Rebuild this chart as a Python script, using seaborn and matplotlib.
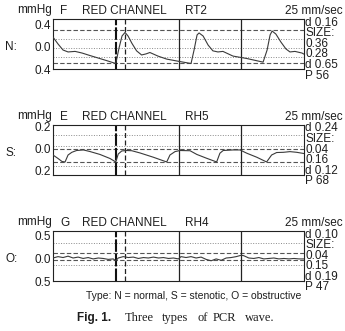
import matplotlib
matplotlib.use("Agg")
import matplotlib.pyplot as plt
import seaborn as sns
import pandas as pd

# ---------------- data ----------------
n_time = [0, 2.0, 4.0, 6.0, 8.8, 11.6, 14.7, 18.7, 21.9, 25.0, 26.3, 27.5, 28.7, 29.9,
          31.4, 33.3, 35.3, 37.1, 38.6, 41.8, 45.3, 50.6, 55.0, 56.2, 57.4, 58.2, 59.8,
          61.8, 63.7, 65.7, 67.7, 71.7, 77.3, 81.7, 83.7, 85.3, 86.5, 87.3, 88.8, 90.8,
          92.8, 94.4, 96.4, 99.2, 100]
n_vals = [0.18, 0.055, -0.055, -0.09, -0.08, -0.11, -0.155, -0.21, -0.255, -0.30, -0.02,
          0.20, 0.265, 0.20, 0.07, -0.07, -0.145, -0.125, -0.10, -0.165, -0.22, -0.265,
          -0.30, -0.055, 0.22, 0.255, 0.20, 0.035, -0.07, -0.09, -0.08, -0.165, -0.21,
          -0.255, -0.275, -0.055, 0.22, 0.29, 0.235, 0.09, -0.035, -0.09, -0.08, -0.11, -0.13]

s_time = [0, 2.0, 3.6, 4.8, 6.0, 7.5, 9.4, 12.1, 14.7, 18.7, 22.7, 25.0, 26.0, 27.4, 29.4,
          31.4, 34.7, 40.0, 45.3, 46.6, 48.6, 50.6, 54.6, 57.3, 61.2, 65.2, 66.5, 67.8,
          71.8, 74.5, 77.2, 81.2, 85.1, 87.1, 89.1, 91.8, 94.4, 97.1, 100]
s_vals = [-0.058, -0.089, -0.116, -0.12, -0.058, -0.034, -0.018, -0.013, -0.027, -0.053,
          -0.089, -0.12, -0.049, -0.022, -0.018, -0.02, -0.04, -0.078, -0.12, -0.058,
          -0.028, -0.018, -0.02, -0.053, -0.087, -0.12, -0.042, -0.018, -0.013, -0.013,
          -0.042, -0.078, -0.12, -0.058, -0.036, -0.034, -0.028, -0.034, -0.045]

o_time = [0, 2, 4, 6, 8, 10, 12, 14, 16, 18, 20, 22, 24, 25, 26, 28, 30, 32, 34, 36, 38,
          40, 42, 44, 46, 48, 50, 51, 53, 55, 57, 59, 61, 63, 65, 67, 69, 71, 73, 75, 76,
          78, 80, 82, 84, 86, 88, 90, 92, 94, 96, 98, 100]
o_vals = [0.00, 0.03, 0.01, 0.04, 0.00, 0.02, -0.01, 0.01, -0.02, 0.00, -0.01, -0.03,
          -0.02, -0.06, 0.00, 0.03, 0.01, 0.02, -0.01, 0.01, 0.00, 0.02, 0.00, 0.01, -0.01,
          0.00, -0.02, 0.03, 0.01, 0.03, 0.00, 0.02, -0.03, -0.06, -0.02, -0.05, 0.00, 0.01,
          0.03, 0.06, 0.05, 0.00, -0.01, 0.01, -0.02, -0.01, 0.00, -0.02, -0.01, -0.02,
          -0.01, -0.02, -0.02]

panel_types = ["N:", "S:", "O:"]
panel_letters = ["F", "E", "G"]
panel_codes = ["RT2", "RH5", "RH4"]
tick_values = [[0.4, 0.0, -0.4], [0.2, 0.0, -0.2], [0.5, 0.0, -0.5]]
tick_labels = [["0.4", "0.0", "0.4"], ["0.2", "0.0", "0.2"], ["0.5", "0.0", "0.5"]]
y_limits = [(-0.40, 0.509), (-0.236, 0.209), (-0.50, 0.587)]
dashed_levels = [[0.31, -0.29], [-0.009, -0.12], [0.098, -0.043]]
dotted_levels = [[0.145, -0.02, -0.18], [0.12, 0.018, -0.16], [0.326, -0.152]]
right_labels = [["d 0.16", "SIZE:", "0.36", "0.28", "d 0.65", "P 56"],
                ["d 0.24", "SIZE:", "0.04", "0.16", "d 0.12", "P 68"],
                ["d 0.10", "SIZE:", "0.04", "0.15", "d 0.19", "P 47"]]
beat_marks = [25.0, 50.0, 75.0]
cursor_mark = 28.7

series = [(n_time, n_vals), (s_time, s_vals), (o_time, o_vals)]

# ---------------- style ----------------
sns.set_theme(style="white")
plt.rcParams["font.family"] = ["Liberation Sans", "DejaVu Sans"]

W, H = 345, 331
fig = plt.figure(figsize=(W / 100, H / 100), dpi=100)

def fx(x):
    return x / W

def fy(y):
    return 1 - y / H

box_left, box_right = 53, 304
box_tops = [19, 125, 231]
box_h = 50
TXT = "#1e1e1e"

for i in range(3):
    top = box_tops[i]
    ax = fig.add_axes([fx(box_left), fy(top + box_h), (box_right - box_left) / W, box_h / H])
    t, v = series[i]
    df = pd.DataFrame({"t": t, "v": v})
    for lv in dotted_levels[i]:
        ax.axhline(lv, color="#8a8a8a", lw=0.7, linestyle=(0, (1, 1.6)), zorder=1)
    for lv in dashed_levels[i]:
        ax.axhline(lv, color="#555555", lw=0.8, linestyle=(0, (4, 2)), zorder=1)
    ax.axvline(beat_marks[0], color="#111111", lw=1.5, linestyle=(0, (6, 1)), zorder=2)
    ax.axvline(cursor_mark, color="#222222", lw=0.9, linestyle=(0, (4, 2)), zorder=2)
    for b in beat_marks[1:]:
        ax.axvline(b, color="#222222", lw=0.9, zorder=2)
    sns.lineplot(data=df, x="t", y="v", ax=ax, color="#3a3a3a", lw=0.8,
                 estimator=None, sort=False, zorder=3)
    ax.set_xlim(0, 100)
    ax.set_ylim(*y_limits[i])
    ax.set_xticks([])
    ax.set_yticks(tick_values[i])
    ax.set_yticklabels(tick_labels[i], fontsize=8.5, color=TXT)
    ax.tick_params(axis="y", length=0, pad=1.5)
    ax.set_xlabel("")
    ax.set_ylabel("")
    for sp in ax.spines.values():
        sp.set_color("#222222")
        sp.set_linewidth(0.8)
        sp.set_visible(True)

    ty = top - 8.5
    fig.text(fx(17), fy(ty), "mmHg", fontsize=8.5, color=TXT, va="center", ha="left")
    fig.text(fx(60), fy(ty), panel_letters[i], fontsize=8.5, color=TXT, va="center", ha="left")
    fig.text(fx(82), fy(ty), "RED CHANNEL", fontsize=8.5, color=TXT, va="center", ha="left")
    fig.text(fx(185), fy(ty), panel_codes[i], fontsize=8.5, color=TXT, va="center", ha="left")
    fig.text(fx(343), fy(ty), "25 mm/sec", fontsize=8.5, color=TXT, va="center", ha="right")
    fig.text(fx(5), fy(top + 28), panel_types[i], fontsize=8.5, color=TXT, va="center", ha="left")
    for k, lab in enumerate(right_labels[i]):
        fig.text(fx(305), fy(top + 3.5 + k * 10.6), lab, fontsize=8.5, color=TXT,
                 va="center", ha="left")

fig.text(fx(194), fy(296), "Type: N = normal, S = stenotic, O = obstructive",
         fontsize=7.5, color=TXT, va="center", ha="center")

cap_y = 318
fig.text(fx(77), fy(cap_y), "Fig. 1.", fontsize=8.5, fontweight="bold", color=TXT,
         va="center", ha="left")
cap_words = ["Three", "types", "of", "PCR", "wave."]
cap_x = [125, 162, 197, 213, 245]
for wd, xx in zip(cap_words, cap_x):
    fig.text(fx(xx), fy(cap_y), wd, fontsize=9, family=["Liberation Serif", "DejaVu Serif"],
             color=TXT, va="center", ha="left")

fig.savefig("out.png", dpi=100, facecolor="white")
